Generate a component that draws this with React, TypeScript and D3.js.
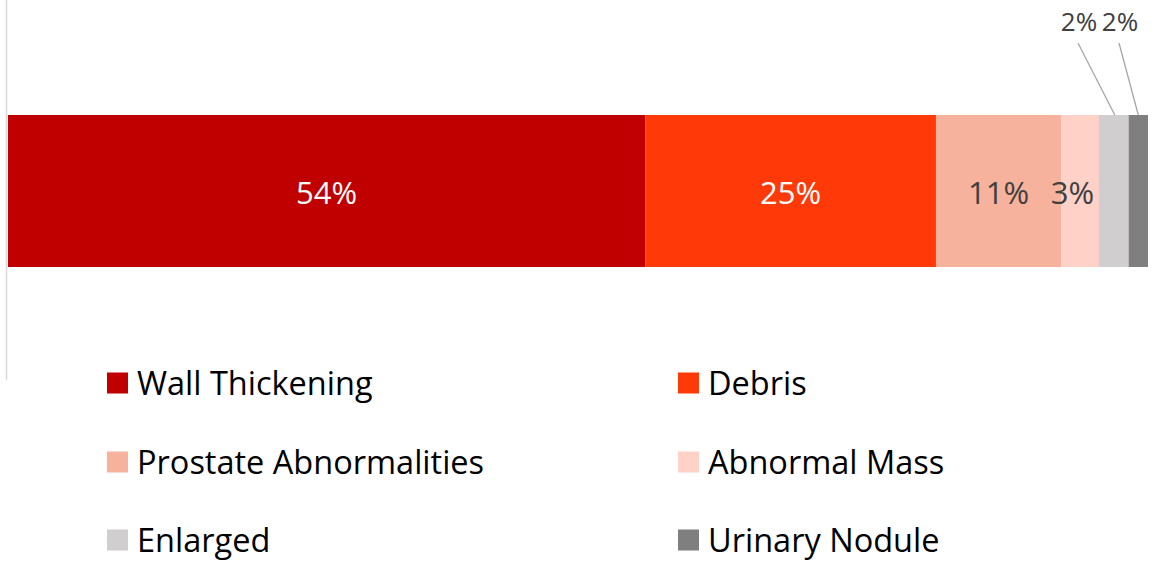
import React, { useEffect, useRef } from "react";
import * as d3 from "d3";

// category shares (bar widths) and the labels printed on them
const categories = ["Wall Thickening", "Debris", "Prostate Abnormalities", "Abnormal Mass", "Enlarged", "Urinary Nodule"];
const shares = [55.9, 25.5, 11.0, 3.3, 2.6, 1.7];
const shareLabels = ["54%", "25%", "11%", "3%", "2%", "2%"];
const colors = ["#C00000", "#FF3A08", "#F7B29D", "#FFD1C7", "#D0CECE", "#7F7F7F"];

const FONT = "'Open Sans', sans-serif";

function App() {
  const ref = useRef<SVGSVGElement | null>(null);

  useEffect(() => {
    const svg = d3.select(ref.current);
    svg.selectAll("*").remove();

    const total = d3.sum(shares);
    const x = d3.scaleLinear().domain([0, total]).range([8, 1148]);
    const barY = 115,
      barH = 152;

    // vertical category axis line
    svg.append("line")
      .attr("x1", 6.5).attr("x2", 6.5)
      .attr("y1", 0).attr("y2", 380)
      .attr("stroke", "#d9d9d9")
      .attr("stroke-width", 1.5);

    const starts = d3.cumsum([0, ...shares]);
    const segs = shares.map((v, i) => ({ v, i, x0: starts[i], x1: starts[i] + v }));

    svg.selectAll("rect.seg")
      .data(segs)
      .join("rect")
      .attr("class", "seg")
      .attr("x", (d) => x(d.x0))
      .attr("width", (d) => x(d.x1) - x(d.x0))
      .attr("y", barY)
      .attr("height", barH)
      .attr("fill", (d) => colors[d.i]);

    // labels inside the bar (first four)
    svg.selectAll("text.inlabel")
      .data(segs.slice(0, 4))
      .join("text")
      .attr("class", "inlabel")
      .attr("x", (d) => (d.i === 3 ? x(d.x0) + 11 : (x(d.x0) + x(d.x1)) / 2))
      .attr("y", 204)
      .attr("text-anchor", "middle")
      .attr("font-family", FONT)
      .attr("font-size", 31)
      .attr("fill", (d) => (d.i < 2 ? "#ffffff" : "#404040"))
      .text((d) => shareLabels[d.i]);

    // small segments get labels above the bar with leader lines
    const outside = segs.slice(4);
    const labelX = [1079, 1120];
    svg.selectAll("line.leader")
      .data(outside)
      .join("line")
      .attr("class", "leader")
      .attr("x1", (d, k) => labelX[k] - 1)
      .attr("y1", 43)
      .attr("x2", (d) => (x(d.x0) + x(d.x1)) / 2 + (d.i === 4 ? 1 : 0))
      .attr("y2", barY)
      .attr("stroke", "#a6a6a6")
      .attr("stroke-width", 1.3);

    svg.selectAll("text.outlabel")
      .data(outside)
      .join("text")
      .attr("class", "outlabel")
      .attr("x", (d, k) => labelX[k])
      .attr("y", 31)
      .attr("text-anchor", "middle")
      .attr("font-family", FONT)
      .attr("font-size", 26)
      .attr("fill", "#404040")
      .text((d) => shareLabels[d.i]);

    // legend, two columns
    const colX = [107, 678];
    const rowY = [383, 462, 540];
    const leg = svg.selectAll("g.leg")
      .data(categories)
      .join("g")
      .attr("class", "leg")
      .attr("transform", (d, i) => `translate(${colX[i % 2]}, ${rowY[Math.floor(i / 2)]})`);

    leg.append("rect")
      .attr("x", 0).attr("y", -10.5)
      .attr("width", 21).attr("height", 21)
      .attr("fill", (d, i) => colors[i]);

    leg.append("text")
      .attr("x", 30)
      .attr("y", 12)
      .attr("font-family", FONT)
      .attr("font-size", 32.5)
      .attr("fill", "#000000")
      .text((d) => d);
  }, []);

  return (
    <div style={{ position: "absolute", left: 0, top: 0 }}>
      <svg ref={ref} width={1153} height={562} style={{ display: "block", background: "#ffffff" }} />
    </div>
  );
}

export default App;
